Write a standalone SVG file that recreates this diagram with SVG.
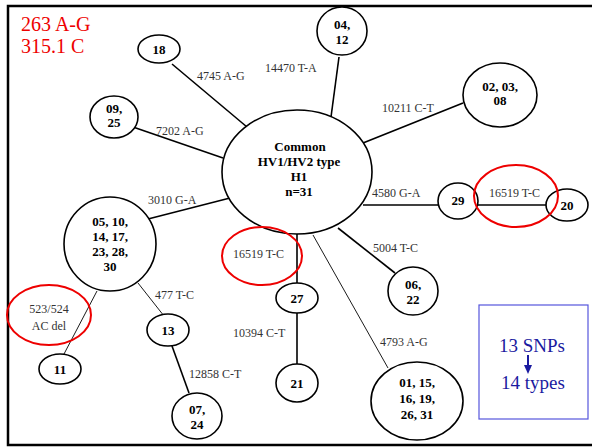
<svg xmlns="http://www.w3.org/2000/svg" width="592" height="447" viewBox="0 0 592 447">
<style>
.n{fill:#fff;stroke:#000;stroke-width:1.6}
.nt{font-weight:bold;font-size:13px;fill:#000;text-anchor:middle}
.e{stroke:#000;stroke-width:1.6;fill:none}
.et{stroke:#000;stroke-width:0.9;fill:none}
.el{font-size:12px;fill:#333}
.r{fill:none;stroke:#e00;stroke-width:2}
</style>
<g font-family="Liberation Serif, serif">
<rect x="8" y="6" width="590" height="439" fill="#fff" stroke="#000" stroke-width="2.5"/>
<text x="21" y="31" font-size="20" fill="#e00">263 A-G</text>
<text x="21" y="53" font-size="20" fill="#e00">315.1 C</text>
<g id="connectors">
<line class="e" x1="172" y1="64" x2="247" y2="127"/>
<line class="e" x1="133" y1="127" x2="223" y2="158"/>
<line class="e" x1="148" y1="219" x2="230" y2="198"/>
<line class="e" x1="339" y1="57" x2="331" y2="117"/>
<line class="e" x1="463" y1="103" x2="363" y2="143"/>
<line class="e" x1="363" y1="205" x2="438" y2="205"/>
<line class="e" x1="478" y1="205" x2="547" y2="205"/>
<line class="e" x1="338" y1="228" x2="395" y2="273"/>
<line class="et" x1="313" y1="235" x2="388" y2="368"/>
<line class="e" x1="297" y1="234" x2="297" y2="283"/>
<line class="e" x1="297" y1="313" x2="297" y2="364"/>
<line class="et" x1="97" y1="291" x2="64" y2="354"/>
<line class="et" x1="138" y1="283" x2="164" y2="316"/>
<line class="e" x1="172" y1="346" x2="189" y2="393"/>
</g>
<g id="edge-labels" font-family="Liberation Serif, serif">
<text class="el" x="197" y="80">4745 A-G</text>
<text class="el" x="265" y="72">14470 T-A</text>
<text class="el" x="156" y="135">7202 A-G</text>
<text class="el" x="148" y="204">3010 G-A</text>
<text class="el" x="382" y="112">10211 C-T</text>
<text class="el" x="372" y="197">4580 G-A</text>
<text class="el" x="489" y="197">16519 T-C</text>
<text class="el" x="373" y="252">5004 T-C</text>
<text class="el" x="380" y="346">4793 A-G</text>
<text class="el" x="233" y="258">16519 T-C</text>
<text class="el" x="233" y="337">10394 C-T</text>
<text class="el" x="155" y="299">477 T-C</text>
<text class="el" x="189" y="378">12858 C-T</text>
<text class="el" x="49" y="313" text-anchor="middle">523/524</text>
<text class="el" x="49" y="330" text-anchor="middle">AC del</text>
</g>
<g id="nodes" font-family="Liberation Serif, serif">
<g id="center"><ellipse class="n" cx="297" cy="172" rx="75" ry="62"/>
<text class="nt" x="300" y="151">Common</text><text class="nt" x="299" y="166">HV1/HV2 type</text><text class="nt" x="299" y="181">H1</text><text class="nt" x="299" y="196">n=31</text></g>
<g id="n18"><ellipse class="n" cx="159" cy="49" rx="21" ry="14"/><text class="nt" x="159" y="54">18</text></g>
<g id="n0925"><ellipse class="n" cx="114" cy="117" rx="24" ry="21"/><text class="nt" x="114" y="113">09,</text><text class="nt" x="114" y="127">25</text></g>
<g id="n0412"><ellipse class="n" cx="342" cy="31" rx="25" ry="24"/><text class="nt" x="342" y="29">04,</text><text class="nt" x="342" y="44">12</text></g>
<g id="n020308"><ellipse class="n" cx="500" cy="95" rx="37" ry="32"/><text class="nt" x="500" y="91">02, 03,</text><text class="nt" x="500" y="105">08</text></g>
<g id="n29"><ellipse class="n" cx="458" cy="201" rx="20" ry="18"/><text class="nt" x="458" y="205">29</text></g>
<g id="n20"><ellipse class="n" cx="567" cy="205" rx="21" ry="16"/><text class="nt" x="567" y="210">20</text></g>
<g id="n05"><ellipse class="n" cx="110" cy="244" rx="46" ry="47"/><text class="nt" x="110" y="226">05, 10,</text><text class="nt" x="110" y="241">14, 17,</text><text class="nt" x="110" y="256">23, 28,</text><text class="nt" x="110" y="271">30</text></g>
<g id="n11"><ellipse class="n" cx="60" cy="369" rx="21" ry="15"/><text class="nt" x="60" y="374">11</text></g>
<g id="n13"><ellipse class="n" cx="168" cy="330" rx="21" ry="16"/><text class="nt" x="168" y="335">13</text></g>
<g id="n0724"><ellipse class="n" cx="197" cy="416" rx="25" ry="23"/><text class="nt" x="197" y="414">07,</text><text class="nt" x="197" y="429">24</text></g>
<g id="n27"><ellipse class="n" cx="297" cy="298" rx="21" ry="15"/><text class="nt" x="297" y="303">27</text></g>
<g id="n21"><ellipse class="n" cx="297" cy="383" rx="21" ry="19"/><text class="nt" x="297" y="388">21</text></g>
<g id="n0622"><ellipse class="n" cx="413" cy="291" rx="25" ry="24"/><text class="nt" x="413" y="289">06,</text><text class="nt" x="413" y="304">22</text></g>
<g id="n01"><ellipse class="n" cx="417" cy="401" rx="46" ry="39"/><text class="nt" x="417" y="387">01, 15,</text><text class="nt" x="417" y="403">16, 19,</text><text class="nt" x="417" y="419">26, 31</text></g>
</g>
<g id="highlights">
<ellipse class="r" cx="516" cy="196" rx="42" ry="31"/>
<ellipse class="r" cx="262" cy="256" rx="40" ry="29"/>
<ellipse class="r" cx="49" cy="315" rx="42" ry="30"/>
</g>
<g id="summary">
<rect x="479" y="305" width="109" height="114" fill="none" stroke="#5555dd" stroke-width="1.2"/>
<text x="532" y="352" font-size="19" fill="#1a1aa0" text-anchor="middle">13 SNPs</text>
<line x1="528" y1="355" x2="528" y2="366" stroke="#1a1aa0" stroke-width="2"/>
<polygon points="524,365 532,365 528,374" fill="#1a1aa0"/>
<text x="533" y="389" font-size="19" fill="#1a1aa0" text-anchor="middle">14 types</text>
</g>
</g>
</svg>
